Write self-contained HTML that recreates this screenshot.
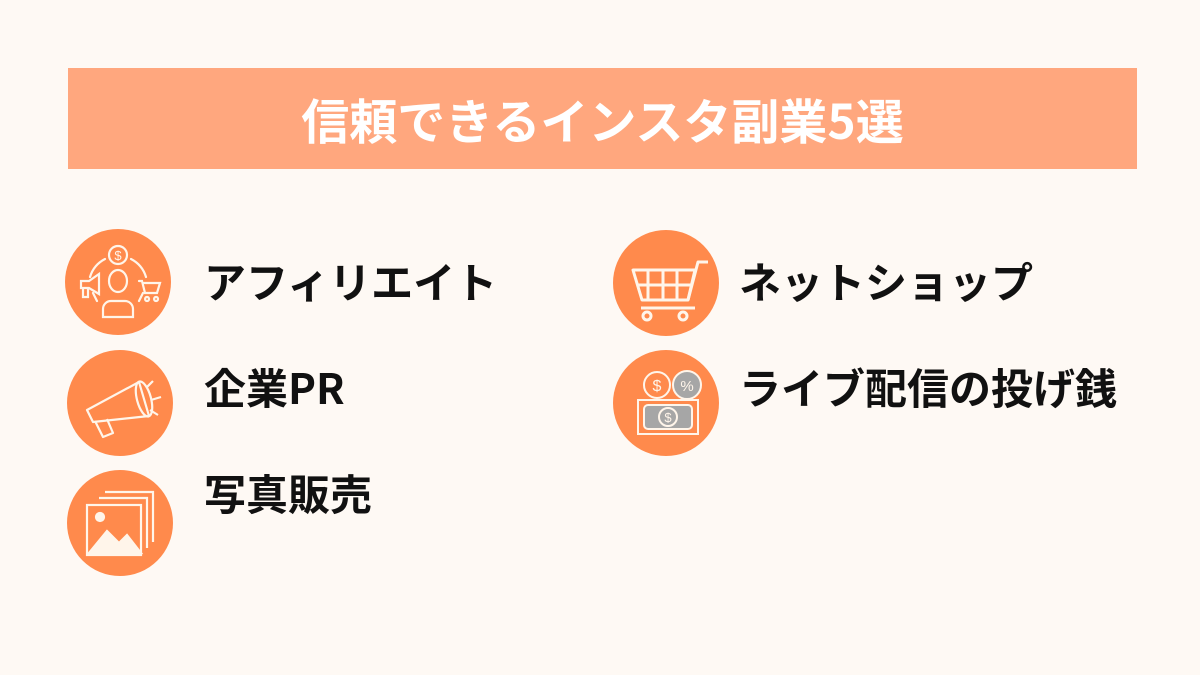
<!DOCTYPE html>
<html><head><meta charset="utf-8"><style>
body{margin:0;width:1200px;height:675px;background:#FEF9F4;position:relative;overflow:hidden;font-family:"Noto Sans CJK JP","Liberation Sans",sans-serif}
.bar{position:absolute;left:68px;top:68px;width:1069px;height:101px;background:#FFA77E;color:#fff;font-weight:bold;font-size:48px;line-height:101px;text-align:center}
.c{position:absolute;width:106px;height:106px;border-radius:50%;background:#FF8A4C}
.c svg{width:106px;height:106px}
.t{position:absolute;font-weight:bold;font-size:42px;color:#111;line-height:50px}
</style></head><body>
<div class="bar">信頼できるインスタ副業5選</div>

<div class="c" style="left:65px;top:229px"><svg viewBox="0 0 106 106" fill="none" stroke="#FFF5EA" stroke-width="2.2" stroke-linecap="round">
<circle cx="53" cy="26" r="9"/><text x="53" y="31" fill="#FFF5EA" stroke="none" font-size="13" text-anchor="middle" font-family="Liberation Sans">$</text>
<path d="M40 30 A30 30 0 0 0 25 48 M66 30 A30 30 0 0 1 81 48 M28 64 L32 72 M78 64 L74 72"/>
<path d="M16 52 h8 l10-7 v20 l-10-6 h-8z M18 59 v9 h5 v-9"/>
<path d="M74 52 h3 l3 12 h12 l3-10 h-16 M82 68 a2 2 0 1 0 0.1 0 M91 68 a2 2 0 1 0 0.1 0"/>
<path d="M44 52 a9 11 0 0 1 18 0 a9 11 0 0 1 -18 0z M38 88 v-8 a8 8 0 0 1 8-8 h14 a8 8 0 0 1 8 8 v8z"/>
</svg></div>
<div class="c" style="left:67px;top:350px"><svg viewBox="0 0 106 106" fill="none" stroke="#FFF5EA" stroke-width="2.2" stroke-linejoin="round">
<path d="M20 60 l52-28 l10 34 l-56 6 z"/><ellipse cx="77" cy="49" rx="7" ry="18" transform="rotate(-15 77 49)"/>
<path d="M28 71 l8 16 l10-4 l-6-14"/><path d="M80 37 l6-6 M84 50 l10-3 M83 60 l8 5"/>
</svg></div>
<div class="c" style="left:67px;top:470px"><svg viewBox="0 0 106 106" fill="none" stroke="#FFF5EA" stroke-width="2.2">
<path d="M38 22 h48 v50 M32 28 h48 v50"/><rect x="20" y="35" width="54" height="50"/>
<circle cx="33" cy="47" r="4" fill="#FFF5EA"/><path d="M22 83 l18-22 l12 12 l8-8 l14 18z" fill="#FFF5EA"/>
</svg></div>

<div class="c" style="left:613px;top:230px"><svg viewBox="0 0 106 106" fill="none" stroke="#FFF5EA" stroke-width="3" stroke-linejoin="round">
<path d="M20 40 h62 l-7 30 h-46 z M35 40 v30 M50 40 v30 M64 40 v30 M24 55 h55"/>
<path d="M75 70 l10-38 h10 M28 78 h54"/><circle cx="34" cy="86" r="4"/><circle cx="70" cy="86" r="4"/>
</svg></div>
<div class="c" style="left:613px;top:350px"><svg viewBox="0 0 106 106" stroke="#FFF5EA" stroke-width="2">
<circle cx="44" cy="35" r="13" fill="#FF8A4C"/><text x="44" y="41" fill="#FFF5EA" stroke="none" font-size="16" text-anchor="middle" font-family="Liberation Sans">$</text>
<circle cx="74" cy="35" r="14" fill="#A6A6A6"/><text x="74" y="41" fill="#FFF5EA" stroke="none" font-size="15" text-anchor="middle" font-family="Liberation Sans">%</text>
<rect x="25" y="50" width="60" height="34" fill="#FF8A4C"/><rect x="31" y="55" width="48" height="24" rx="4" fill="#A6A6A6"/>
<circle cx="55" cy="67" r="9" fill="#A6A6A6"/><text x="55" y="72" fill="#FFF5EA" stroke="none" font-size="13" text-anchor="middle" font-family="Liberation Sans">$</text>
</svg></div>

<div class="t" style="left:204px;top:256px">アフィリエイト</div>
<div class="t" style="left:204px;top:362px">企業PR</div>
<div class="t" style="left:204px;top:468px">写真販売</div>
<div class="t" style="left:739px;top:256px">ネットショップ</div>
<div class="t" style="left:739px;top:362px">ライブ配信の投げ銭</div>
</body></html>
